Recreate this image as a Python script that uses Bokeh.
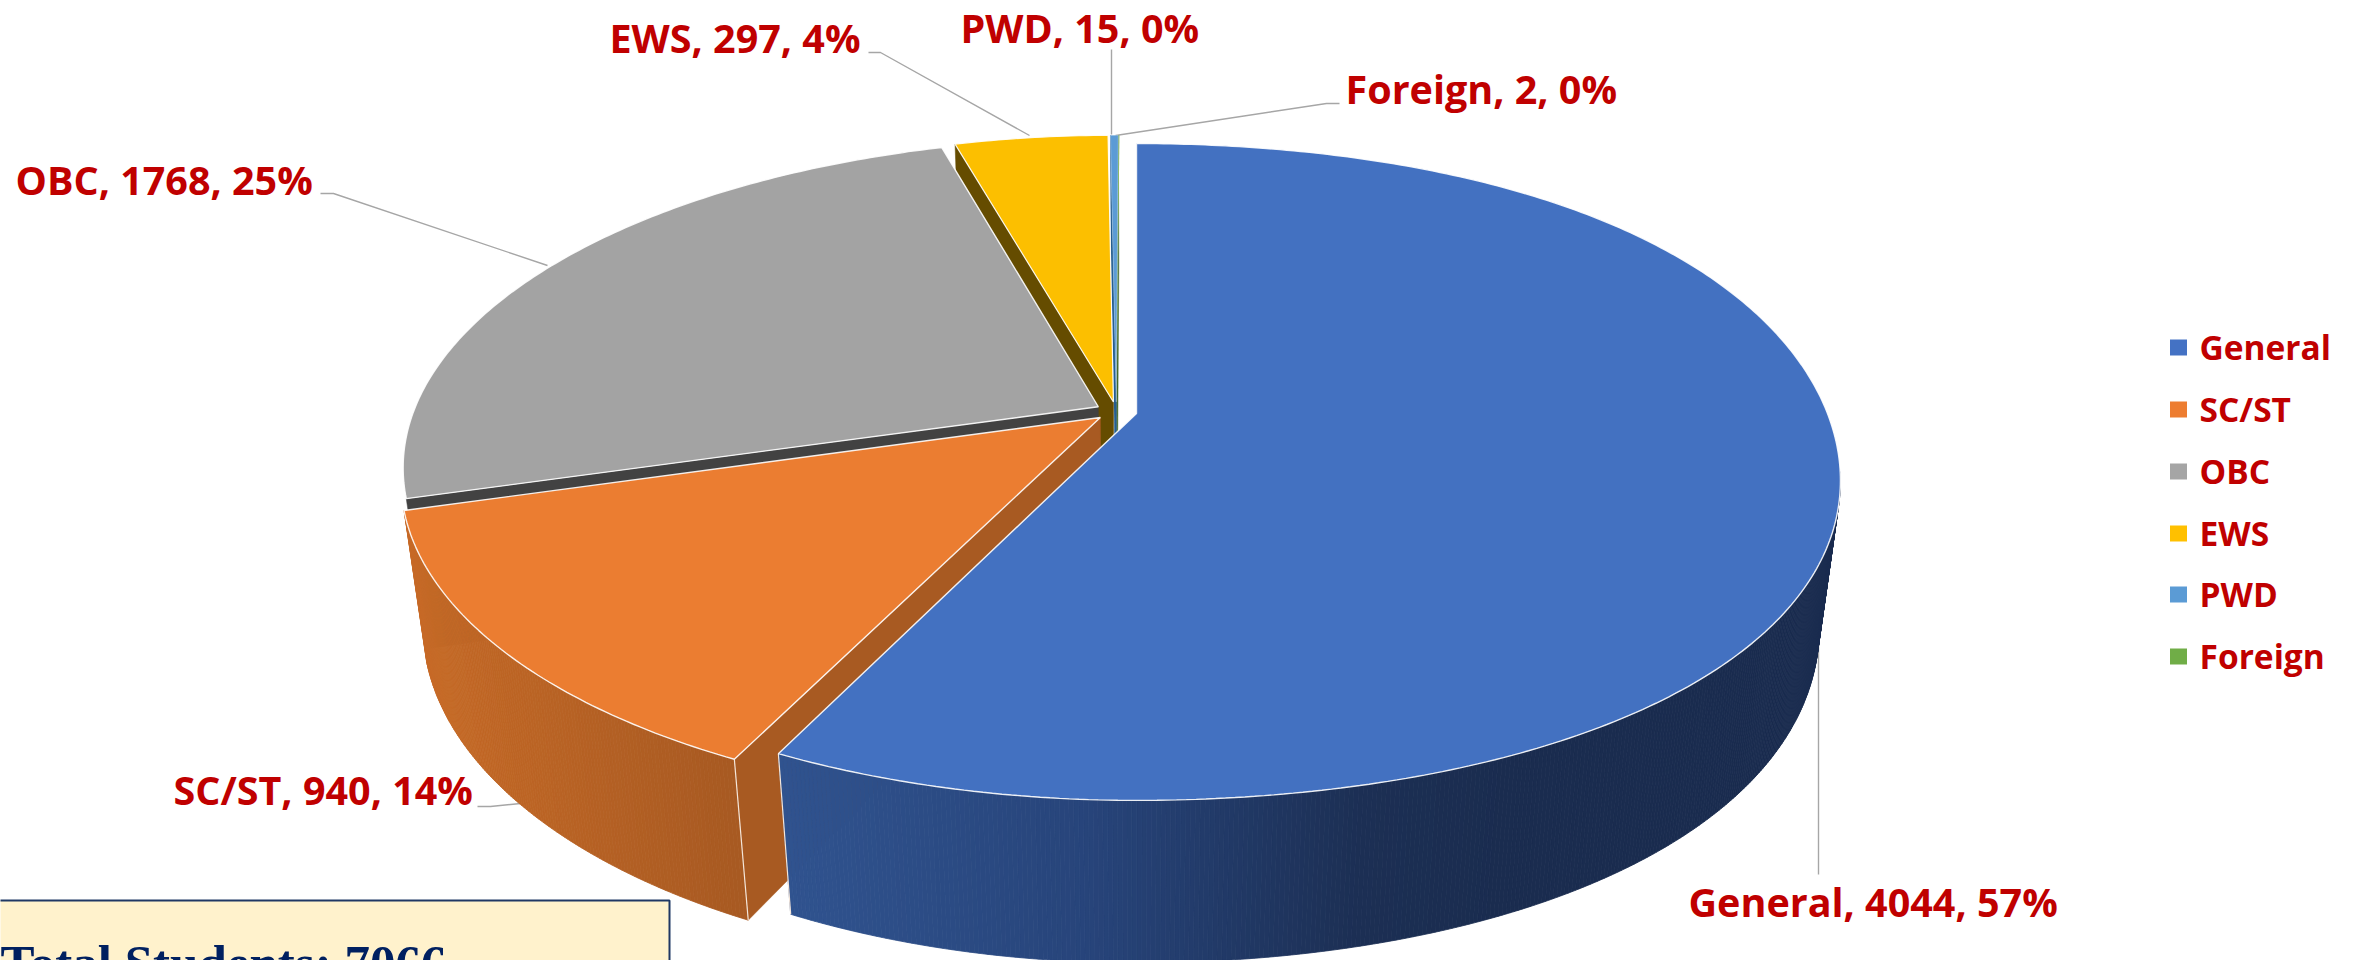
import numpy as np
from bokeh.plotting import figure
from bokeh.models import Range1d
from bokeh.core.properties import value
from bokeh.embed import file_html
from bokeh.resources import INLINE

# ---- data ----
categories = ["General", "SC/ST", "OBC", "EWS", "PWD", "Foreign"]
students = [4044, 940, 1768, 297, 15, 2]
percent_labels = [57, 14, 25, 4, 0, 0]
total_label = "Total Students: 7066"

# ---- styles ----
top_colors = ["#4371C1", "#EB7D31", "#A3A3A3", "#FCBF00", "#5B9BD5", "#70AD47"]
legend_colors = ["#4472C4", "#ED7D31", "#A5A5A5", "#FFC000", "#5B9BD5", "#70AD47"]
cut_colors = ["#1F3560", "#A85A22", "#424242", "#654C00", "#255E91", "#43682B"]
RED = "#C00000"
LEAD = "#A6A6A6"
FONT = "Open Sans"
LABEL_PX = "39.5px"
LEGEND_PX = "33.5px"

# ---- layout of the pie: perspective projection of a disc ----
CX, CY = 1136.0, 413.0
R, S = 691.0, 318.0
K, M, D = 0.178, 0.030, 150.0
EXPLODE = 0.03
RIGHT_BULGE = 0.017
LEFT_SQUEEZE = 0.992

label_layout = [(1688, 901), (173, 789), (15, 179), (609, 37), (960, 27), (1345, 88)]
leader_layout = [
    ([1818, 1818], [632, 874]),
    ([477, 490, 520], [806, 806, 803]),
    ([320, 333, 547], [193, 193, 265]),
    ([868, 880, 1029], [52, 52, 135]),
    ([1111, 1111], [49, 134]),
    ([1339, 1326, 1115], [103, 103, 135]),
]
legend_x, legend_y = 2178, [347, 409, 471, 533, 594, 656]


def proj(u, v, z=0.0):
    w = 1 - K * v + M * z
    return CX + R * u / w, CY + (S * v + D * z) / w


def direction(deg):
    t = np.radians(deg)
    return np.sin(t), -np.cos(t)


def rim(deg):
    # the drawn rim is not a true circle: fuller on the right, tighter on the left
    deg = np.asarray(deg, dtype=float)
    u, v = direction(deg)
    right = deg <= 180
    r = np.where(right, 1 + RIGHT_BULGE * np.sin(np.radians(2 * deg)) ** 2, 1.0)
    squeeze = np.where(deg < 340, LEFT_SQUEEZE, 1.0)
    u = np.where(right, u * r, u * squeeze)
    return u, v * r


def lerp_hex(stops, t):
    xs = [s[0] for s in stops]
    rgb = [[int(s[1][i:i + 2], 16) for s in stops] for i in (1, 3, 5)]
    return "#%02x%02x%02x" % tuple(int(round(np.interp(t, xs, c))) for c in rgb)


wall_stops = {
    0: [(790, "#30538F"), (1090, "#27447A"), (1354, "#1C2F54"), (1500, "#1A2C4F"), (1900, "#1A2C4F")],
    1: [(410, "#C86B27"), (740, "#A85A22")],
}

p = figure(width=2359, height=960, output_backend="svg", toolbar_location=None,
           x_range=Range1d(0, 2359), y_range=Range1d(960, 0),
           min_border=0, outline_line_color=None, background_fill_color="white",
           border_fill_color="white")
p.axis.visible = False
p.grid.visible = False

total = sum(students)
cum = np.cumsum([0] + students) / total * 360.0
starts, ends = cum[:-1], cum[1:]
mids = (starts + ends) / 2
blue_du, blue_dv = direction(mids[0])

# leader lines sit behind the pie
for xs, ys in leader_layout:
    p.line(xs, ys, line_color=LEAD, line_width=1.4)


def draw_slice(i, stroke):
    du, dv = direction(mids[i])
    ou, ov = EXPLODE * (du - blue_du), EXPLODE * (dv - blue_dv)
    a0, a1 = starts[i], ends[i]
    n = max(3, int((a1 - a0) * 1.5))
    angs = np.linspace(a0, a1, n)
    ru, rv = rim(angs)
    us, vs = ru + ou, rv + ov

    # cut face at the slice's clockwise-start edge
    ax, ay = proj(ou, ov, 0)
    bx, by = proj(ou, ov, 1)
    cx0, cy0 = proj(us[0], vs[0], 0)
    cx1, cy1 = proj(us[0], vs[0], 1)
    p.patch([ax, cx0, cx1, bx], [ay, cy0, cy1, by],
            fill_color=cut_colors[i], line_color=cut_colors[i], line_width=0.5)

    # outer wall, front-facing part only
    if i in wall_stops:
        fine = np.linspace(a0, a1, int((a1 - a0) * 3))
        fu, fv = rim(fine)
        fu, fv = fu + ou, fv + ov
        for j in range(len(fine) - 1):
            if fv[j] < K and fv[j + 1] < K:
                continue
            x0, y0 = proj(fu[j], fv[j], 0)
            x1, y1 = proj(fu[j + 1], fv[j + 1], 0)
            x2, y2 = proj(fu[j + 1], fv[j + 1], 1)
            x3, y3 = proj(fu[j], fv[j], 1)
            col = lerp_hex(wall_stops[i], (x2 + x3) / 2)
            p.patch([x0, x1, x2, x3], [y0, y1, y2, y3], fill_color=col,
                    line_color=col, line_width=0.8)
    # white seam down the wall's edge
    if i in (0, 1):
        edge = 1 if i == 0 else 0
        eu, ev = (us[-1], vs[-1]) if edge else (us[0], vs[0])
        x0, y0 = proj(eu, ev, 0)
        x1, y1 = proj(eu, ev, 1)
        p.line([x0, x1], [y0, y1], line_color="#F4E6DA", line_width=1.2)

    # top face
    tx, ty = proj(us, vs, 0)
    p.patch([ax] + list(tx), [ay] + list(ty), fill_color=top_colors[i],
            line_color="white", line_width=stroke, line_alpha=0.9)


for i, stroke in [(5, 0.1), (4, 0.3), (3, 1.2), (2, 1.4), (1, 1.4), (0, 1.4)]:
    draw_slice(i, stroke)

# data labels
for cat, n, pct, (x, y) in zip(categories, students, percent_labels, label_layout):
    p.text([x], [y], text=[f"{cat}, {n}, {pct}%"], text_font=value(FONT),
           text_font_style="bold", text_font_size=LABEL_PX, text_color=RED,
           text_align="left", text_baseline="middle")

# legend
p.rect([legend_x] * 6, legend_y, width=17, height=16, fill_color=legend_colors, line_color=None)
p.text([2199] * 6, [y - 1 for y in legend_y], text=categories, text_font=value(FONT),
       text_font_style="bold", text_font_size=LEGEND_PX, text_color=RED, text_align="left",
       text_baseline="middle")

# total box, its left and lower sides run off the picture
p.quad(left=[-10], right=[669], top=[900], bottom=[975], fill_color="#FFF2CC",
       line_color="#1F3864", line_width=2)
p.text([0], [962], text=[total_label], text_font=value("Liberation Serif"), text_font_style="bold",
       text_font_size="51px", text_color="#002060", text_align="left", text_baseline="alphabetic")

open("out.html", "w").write(file_html(p, INLINE))
